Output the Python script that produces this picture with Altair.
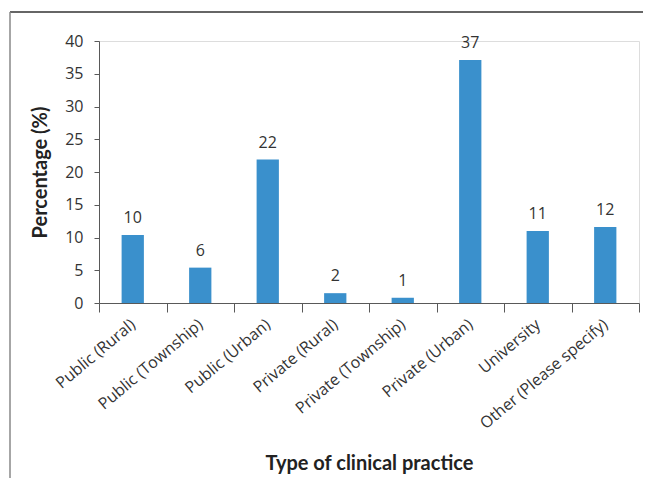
import altair as alt
import pandas as pd

categories = [
    "Public (Rural)",
    "Public (Township)",
    "Public (Urban)",
    "Private (Rural)",
    "Private (Township)",
    "Private (Urban)",
    "University",
    "Other (Please specify)",
]
percentages = [10.4, 5.4, 21.9, 1.5, 0.8, 37.1, 11.0, 11.6]
value_labels = ["10", "6", "22", "2", "1", "37", "11", "12"]
y_ticks = [0, 5, 10, 15, 20, 25, 30, 35, 40]

df = pd.DataFrame({"category": categories, "pct": percentages, "label": value_labels})

FONT = "Open Sans"
TFONT = "Lato"
TEXT = "#333333"
AXIS = "#595959"

x_enc = alt.X(
    "category:N",
    sort=categories,
    title="Type of clinical practice",
    scale=alt.Scale(paddingInner=0, paddingOuter=0),
    axis=alt.Axis(
        labelAngle=-40,
        labelAlign="right",
        labelBaseline="middle",
        labelFont=FONT,
        labelFontSize=16,
        labelColor=TEXT,
        labelPadding=10,
        labelOverlap=False,
        tickBand="extent",
        tickSize=9,
        tickColor=AXIS,
        domainColor=AXIS,
        titleFont=TFONT,
        titleFontSize=20,
        titleFontWeight="bold",
        titleColor="#222222",
        titlePadding=22,
    ),
)
y_enc = alt.Y(
    "pct:Q",
    title="Percentage (%)",
    scale=alt.Scale(domain=[0, 40], nice=False),
    axis=alt.Axis(
        values=y_ticks,
        grid=False,
        tickSize=5,
        tickColor=AXIS,
        domainColor=AXIS,
        labelFont=FONT,
        labelFontSize=16,
        labelColor=TEXT,
        labelPadding=11,
        labelOverlap=False,
        titleFont=TFONT,
        titleFontSize=20,
        titleFontWeight="bold",
        titleColor="#222222",
        titlePadding=14,
    ),
)

base = alt.Chart(df)
bars = base.mark_bar(color="#3a90cc", width=alt.RelativeBandSize(0.33)).encode(x=x_enc, y=y_enc)
texts = base.mark_text(baseline="bottom", dy=-9, font=FONT, fontSize=16, color=TEXT).encode(
    x=x_enc, y=y_enc, text="label:N"
)

frame_df = pd.DataFrame({"k": [0]})
top_line = alt.Chart(frame_df).mark_rule(color="#333333", strokeWidth=1.5).encode(
    x=alt.value(-89), x2=alt.value(560), y=alt.value(-29)
)
left_line = alt.Chart(frame_df).mark_rule(color="#888888", strokeWidth=1.5).encode(
    x=alt.value(-89), y=alt.value(-29), y2=alt.value(460)
)

chart = (
    alt.layer(top_line, left_line, bars, texts)
    .properties(
        width=540,
        height=262,
        autosize=alt.AutoSizeParams(type="none"),
        padding={"left": 91, "top": 33, "right": 4, "bottom": 175},
    )
    .configure_view(stroke=None, strokeWidth=0)
    .configure(background="white")
)

chart.save("out.html", embed_options={"renderer": "svg", "actions": False})
